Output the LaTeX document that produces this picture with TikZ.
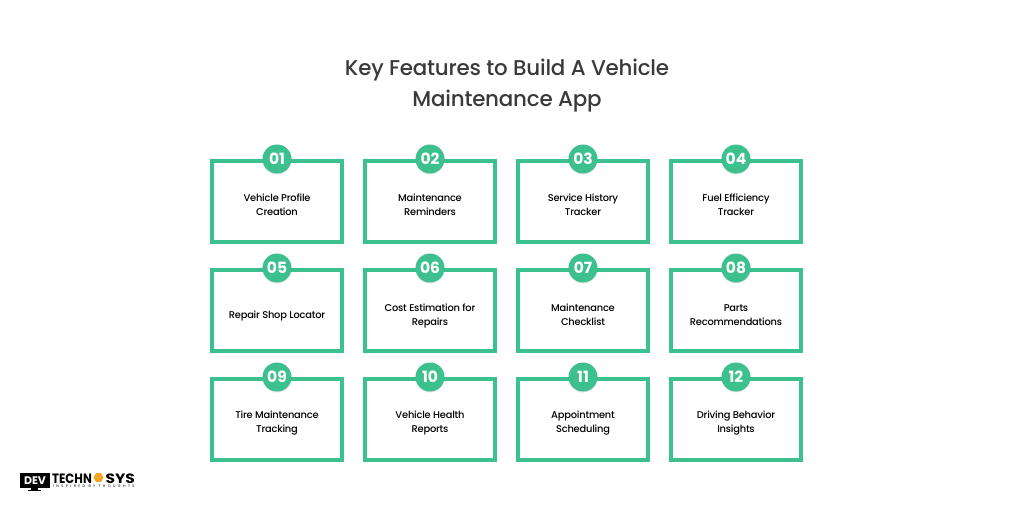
\documentclass[tikz,border=0pt]{standalone}
\usepackage{fontspec}
\setmainfont{Poppins}
\newfontfamily\medfont{Poppins Medium}
\usetikzlibrary{shapes.geometric,shadows}
\definecolor{brandgreen}{HTML}{3CC08E}
\definecolor{titlegrey}{HTML}{3A3A3A}
\definecolor{hexorange}{HTML}{F5A623}
\tikzset{
  featurebox/.style={draw=brandgreen,line width=4pt,fill=white,minimum width=130pt,minimum height=81pt,inner sep=0pt,anchor=north west},
  featuretext/.style={font=\medfont\fontsize{9.85}{14}\selectfont\addfontfeatures{LetterSpace=-2},text=black,align=center,inner sep=0pt,anchor=base},
  badge/.style={circle,fill=brandgreen,minimum size=29pt,inner sep=0pt,text=white,font=\fontsize{15.5}{16}\selectfont\bfseries,drop shadow={shadow xshift=0pt,shadow yshift=-1pt,opacity=.18}},
  titletext/.style={font=\medfont\fontsize{21.4}{31}\selectfont\addfontfeatures{LetterSpace=-1},text=titlegrey,align=center,inner sep=0pt},
  logotext/.style={inner sep=0pt,anchor=west,font=\fontsize{13.5}{12}\selectfont\bfseries,text=black},
}
\begin{document}
\begin{tikzpicture}[x=1pt,y=-1pt]
\useasboundingbox[fill=white] (0,0) rectangle (1014,507);
\node[titletext] (title) at (507,85.5) {Key Features to Build A Vehicle\\Maintenance App};
\foreach \n/\lab/\cx/\ty/\ly/\txt in {
 1/01/210/159/215/{Vehicle Profile\\Creation},
 2/02/363/159/215/{Maintenance\\Reminders},
 3/03/516/159/215/{Service History\\Tracker},
 4/04/669/159/215/{Fuel Efficiency\\Tracker},
 5/05/210/268/318/{Repair Shop Locator},
 6/06/363/268/325/{Cost Estimation for\\Repairs},
 7/07/516/268/325/{Maintenance\\Checklist},
 8/08/669/268/325/{Parts\\Recommendations},
 9/09/210/377/432/{Tire Maintenance\\Tracking},
 10/10/363/377/432/{Vehicle Health\\Reports},
 11/11/516/377/432/{Appointment\\Scheduling},
 12/12/669/377/432/{Driving Behavior\\Insights}}{
  \node[featurebox] (box\n) at (\cx,\ty) {};
  \path (box\n.north) ++(0,\ly-\ty) coordinate (lc\n);
  \node[featuretext] (label\n) at (lc\n) {\txt};
  \node[badge] (badge\n) at (box\n.north) {\lab};
}
% logo
\fill[black] (20,473) rectangle (49.5,488);
\fill[black] (31,488) rectangle (38,491);
\fill[black] (28,490) rectangle (41,491);
\node[inner sep=0pt,text=white,font=\fontsize{11}{11}\selectfont\bfseries] (logodev) at (35,480.5) {DEV};
\node[logotext] (logotech) at (52,478.5) {\scalebox{.87}[1]{TECHN}};
\node[regular polygon,regular polygon sides=6,fill=hexorange,minimum size=10pt,inner sep=0pt] (logohex) at (98.5,477.5) {};
\node[logotext] (logosys) at (105.5,478.5) {\scalebox{1.14}[1]{SYS}};
\node[inner sep=0pt,anchor=west,font=\fontsize{3.6}{3.6}\selectfont\addfontfeatures{LetterSpace=67},text=black] (logotag) at (53,486.2) {INSPIRED BY THOUGHTS};
\end{tikzpicture}
\end{document}
